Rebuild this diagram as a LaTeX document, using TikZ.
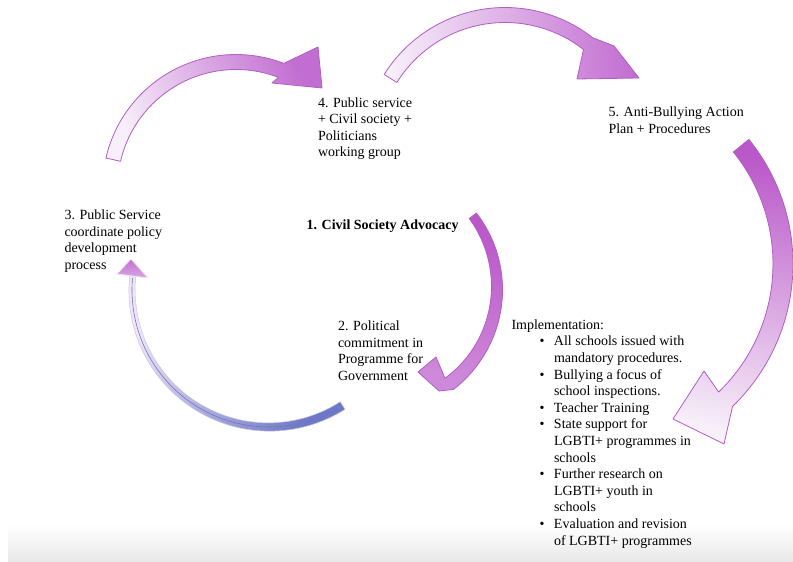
\documentclass[tikz,border=0pt]{standalone}
\usepackage{fontspec}
\setmainfont{Liberation Serif}
\definecolor{orchid}{HTML}{C26DD1}
\definecolor{orchiddeep}{HTML}{BA58C9}
\definecolor{lilac}{HTML}{F7EFF9}
\definecolor{rim}{HTML}{B25DC3}
\definecolor{slate}{HTML}{6B7AC6}
\definecolor{mist}{HTML}{EFE7F6}
\definecolor{thread}{HTML}{7E6FBB}
\newcommand{\lstbul}{\hspace*{28bp}\makebox[14.5bp][l]{\textbullet}}
\newcommand{\lstcont}{\hspace*{42.5bp}}
\tikzset{
  lbl/.style={anchor=north west, inner sep=0pt, outer sep=0pt, align=left},
  bigarrow/.style={draw=rim, line width=0.8bp, line join=round},
}
\begin{document}
\begin{tikzpicture}[x=1bp, y=-1bp, font=\fontsize{14bp}{16.6bp}\selectfont]
\useasboundingbox (0,0) rectangle (793,562);
\fill[white] (0,0) rectangle (793,562);
% soft floor band along the bottom
\shade[top color=white, bottom color=black!9] (8,524) rectangle (793,562);

% arrow 3 -> 4
\path[bigarrow, top color=orchid, bottom color=lilac, shading angle=-66]
  plot[domain=193:291, samples=50] ({236+133.5*cos(\x)}, {188+133.5*sin(\x)})
  -- (318,47) -- (322,88) -- (272,83)
  -- plot[domain=291:193, samples=50] ({236+118.5*cos(\x)}, {188+118.5*sin(\x)})
  -- cycle;

% arrow 4 -> 5
\path[bigarrow, top color=orchid, bottom color=lilac, shading angle=-87]
  plot[domain=212:308, samples=50] ({505+142.5*cos(\x)}, {150+142.5*sin(\x)})
  -- (614,46) -- (639,78) -- (577,79)
  -- plot[domain=308:212, samples=50] ({505+127.5*cos(\x)}, {150+127.5*sin(\x)})
  -- cycle;

% arrow 5 -> implementation
\path[bigarrow, top color=lilac, bottom color=orchiddeep, shading angle=169]
  plot[domain=-39:46, samples=60] ({595+198*cos(\x)}, {264+198*sin(\x)})
  -- (724,444) -- (673,419) -- (704,371)
  -- plot[domain=46:-39, samples=60] ({595+178*cos(\x)}, {264+178*sin(\x)})
  -- cycle;

% arrow 1 -> 2
\path[bigarrow, top color=orchiddeep, bottom color=orchid!80!white, shading angle=-15]
  plot[domain=-37:53, samples=50] ({377+(124.5+2.5*(\x+37)/90)*cos(\x)}, {288+(124.5+2.5*(\x+37)/90)*sin(\x)})
  -- (439,391) -- (418,372) -- (436,357)
  -- plot[domain=53:-37, samples=50] ({377+(115.5-2.5*(\x+37)/90)*cos(\x)}, {288+(115.5-2.5*(\x+37)/90)*sin(\x)})
  -- cycle;

% arrow 2 -> 3
\path[draw=mist!70!thread, line width=0.5bp, top color=mist, bottom color=slate, shading angle=56.5]
  plot[domain=57.5:186, samples=60] ({269+(141.5-1.5*(\x-57.5)/128.5)*cos(\x)}, {290+(141.5-1.5*(\x-57.5)/128.5)*sin(\x)})
  -- plot[domain=186:57.5, samples=60] ({269+(132.5+1.5*(\x-57.5)/128.5)*cos(\x)}, {290+(132.5+1.5*(\x-57.5)/128.5)*sin(\x)})
  -- cycle;
\draw[thread, line width=0.6bp]
  plot[domain=60:185, samples=60] ({269+137*cos(\x)}, {290+137*sin(\x)});
\path[draw=mist, line width=0.8bp, top color=orchid, bottom color=orchid!60!white, line join=round]
  (117,274) -- (131,259) -- (148,278) -- cycle;

% labels
\node[lbl] (s4) at (318,97.3) {4. Public service\\+ Civil society +\\Politicians\\working group};
\node[lbl] (s5) at (608.5,106.8) {5. Anti-Bullying Action\\Plan + Procedures};
\node[lbl] (s3) at (64.5,209.8) {3. Public Service\\coordinate policy\\development\\process};
\node[lbl, font=\fontsize{14bp}{16.6bp}\selectfont\bfseries] (s1) at (306.5,219.5) {1. Civil Society Advocacy};
\node[lbl] (s2) at (338,320.8) {2. Political\\commitment in\\Programme for\\Government};
\node[lbl] (impl) at (511.5,319.5) {Implementation:\\
\lstbul All schools issued with\\
\lstcont mandatory procedures.\\
\lstbul Bullying a focus of\\
\lstcont school inspections.\\
\lstbul Teacher Training\\
\lstbul State support for\\
\lstcont LGBTI+ programmes in\\
\lstcont schools\\
\lstbul Further research on\\
\lstcont LGBTI+ youth in\\
\lstcont schools\\
\lstbul Evaluation and revision\\
\lstcont of LGBTI+ programmes};
\end{tikzpicture}
\end{document}
